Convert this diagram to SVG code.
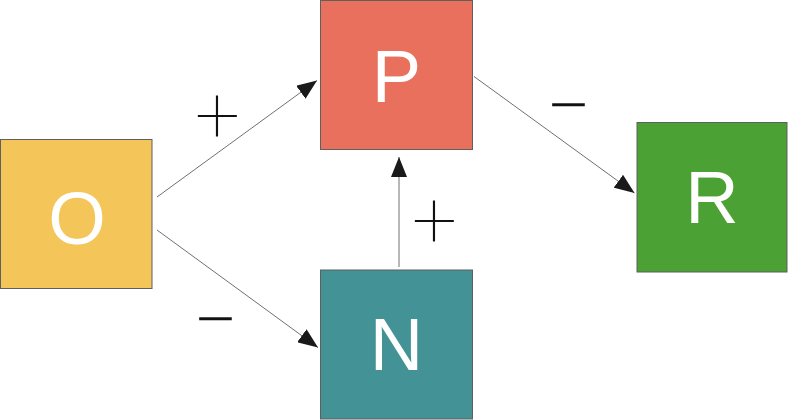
<svg xmlns="http://www.w3.org/2000/svg" width="788" height="420" viewBox="0 0 788 420">
<defs>
<style>
.box{stroke:#5f5f5f;stroke-width:1}
.lbl{font-family:"Liberation Sans",Arial,sans-serif;font-size:74px;fill:#ffffff;text-anchor:middle}
.sign{font-family:Roboto,"Liberation Sans",sans-serif;font-weight:100;font-size:80px;fill:#111111;text-anchor:middle}
.minus{font-weight:200}
.edge{stroke:#707070;stroke-width:1;fill:none}
</style>
<marker id="ah" viewBox="0 0 20 16" refX="20" refY="8" markerWidth="20" markerHeight="16" markerUnits="userSpaceOnUse" orient="auto">
<path d="M0,0 L20,8 L0,16 Z" fill="#1a1a1a"/>
</marker>
</defs>
<rect width="788" height="420" fill="#ffffff"/>
<g id="connectors">
<line class="edge" x1="157" y1="197" x2="317" y2="80.5" marker-end="url(#ah)"/>
<line class="edge" x1="157" y1="230" x2="318" y2="347.5" marker-end="url(#ah)"/>
<line class="edge" x1="474" y1="76.5" x2="634.5" y2="193" marker-end="url(#ah)"/>
<line class="edge" x1="399" y1="267" x2="399" y2="157" marker-end="url(#ah)" stroke="#999999"/>
<text class="sign" x="217.5" y="141.5">+</text>
<text class="sign" x="434.5" y="246.5">+</text>
<text class="sign minus" x="215.5" y="348">−</text>
<text class="sign minus" x="568.5" y="133.5">−</text>
</g>
<g id="node-O">
<rect class="box" x="0.5" y="139.5" width="151.5" height="149" fill="#F4C65A"/>
<text class="lbl" x="77" y="244">O</text>
</g>
<g id="node-P">
<rect class="box" x="320.5" y="0.5" width="152" height="149" fill="#E8705C"/>
<text class="lbl" x="396.5" y="102">P</text>
</g>
<g id="node-R">
<rect class="box" x="637" y="122.5" width="150" height="149.5" fill="#4BA133"/>
<text class="lbl" x="712" y="223">R</text>
</g>
<g id="node-N">
<rect class="box" x="320.5" y="270" width="152" height="149" fill="#439396"/>
<text class="lbl" x="396.5" y="370">N</text>
</g>
</svg>
